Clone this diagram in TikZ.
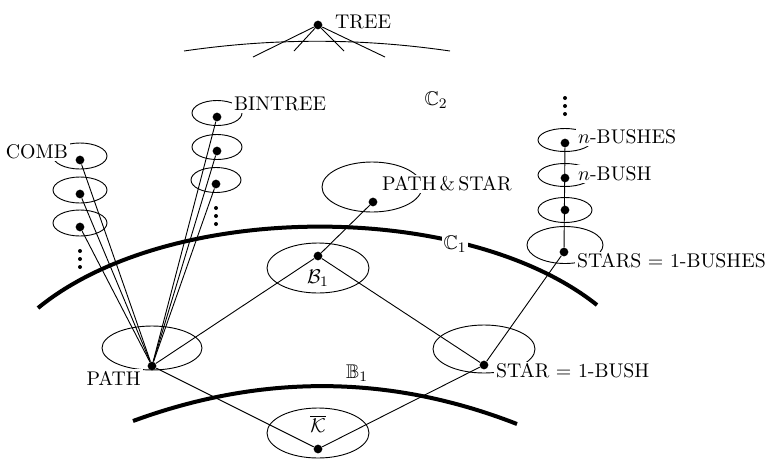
\documentclass[tikz,border=0pt]{standalone}
\usepackage{amsmath, amssymb}
\usetikzlibrary{positioning}

\begin{document}
\begin{tikzpicture}[x=0.55pt,y=-0.55pt,
    font=\fontsize{10.9}{13}\selectfont,
    dot/.style={circle,fill,inner sep=0pt,minimum size=4.8pt},
    lbl/.style={fill=white,inner sep=1pt},
    edge/.style={line width=0.5pt},
    cls/.style={line width=0.5pt},
    bound/.style={line width=2.2pt}]
    \useasboundingbox (0,0) rectangle (766,459);

    % classes
    \draw[cls] (80,156) ellipse (27 and 13);
    \draw[cls] (80,190) ellipse (27 and 13);
    \draw[cls] (80,223) ellipse (27 and 13);
    \draw[cls] (217,113) ellipse (25 and 12.5);
    \draw[cls] (217,147) ellipse (25 and 12.5);
    \draw[cls] (216,180) ellipse (25 and 12.5);
    \draw[cls] (152,348) ellipse (50 and 22);
    \draw[cls] (318,268) ellipse (51 and 25);
    \draw[cls] (372,187) ellipse (50 and 25);
    \draw[cls] (318,433) ellipse (51 and 25);
    \draw[cls] (484,349) ellipse (51 and 24);
    \draw[cls] (565,245) ellipse (38 and 18.5);
    \draw[cls] (565,210) ellipse (27 and 12.5);
    \draw[cls] (565,175) ellipse (27 and 11.5);
    \draw[cls] (565,140) ellipse (27 and 11.5);

    % boundaries
    \draw[cls] (184,51) .. controls (273,38) and (361,38) .. (450,51);
    \draw[bound] (38,308) .. controls (170,200) and (465,200) .. (597,305);
    \draw[bound] (133,421) .. controls (261,374) and (389,374) .. (517,424);

    % labels
    \node[lbl,anchor=west] (treelbl) at (333,22) {TREE};
    \node (ctwo) at (436,100) {$\mathbb{C}_2$};
    \node[lbl,anchor=west] (binlbl) at (232,104) {BINTREE};
    \node[lbl,anchor=east] (comblbl) at (70,152) {COMB};
    \node[lbl,anchor=east] (pathlbl) at (143,378) {PATH};
    \node[lbl,anchor=west] (pslbl) at (380,184) {PATH\,\&\,STAR};
    \node[lbl] (cone) at (455,244) {$\mathbb{C}_1$};
    \node (bone) at (357,373) {$\mathbb{B}_1$};
    \node (calb) at (318,278) {$\mathcal{B}_1$};
    \node (kbar) at (318,424) {$\overline{\mathcal{K}}$};
    \node[lbl,anchor=west] (starlbl) at (494,371) {STAR $=$ 1-BUSH};
    \node[lbl,anchor=west] (starslbl) at (575,261) {STARS $=$ 1-BUSHES};
    \node[lbl,anchor=west] (nbushlbl) at (576,174) {$n$-BUSH};
    \node[lbl,anchor=west] (nbusheslbl) at (576,137) {$n$-BUSHES};

    % vertices
    \node[dot] (TREE) at (318,25) {};
    \node[dot] (C1) at (80,160) {};
    \node[dot] (C2) at (80,194) {};
    \node[dot] (C3) at (80,227) {};
    \node[dot] (T1) at (217,117) {};
    \node[dot] (T2) at (217,151) {};
    \node[dot] (T3) at (216,184) {};
    \node[dot] (PATH) at (152,366) {};
    \node[dot] (B) at (318,256) {};
    \node[dot] (PS) at (373,202) {};
    \node[dot] (K) at (318,449) {};
    \node[dot] (STAR) at (484,365) {};
    \node[dot] (S1) at (564,252) {};
    \node[dot] (S2) at (565,210) {};
    \node[dot] (S3) at (565,178) {};
    \node[dot] (S4) at (565,143) {};

    % more of the same
    \foreach \d in {0,8,16} {
        \fill (80,251+\d) circle (2);
        \fill (216,208+\d) circle (2);
        \fill (565,98+\d) circle (2);
    }

    % tree legs
    \coordinate (l1) at (253,57);
    \coordinate (l2) at (294,51);
    \coordinate (l3) at (344,51);
    \coordinate (l4) at (385,57);
    \foreach \e in {l1,l2,l3,l4}
        \draw[edge] (TREE) -- (\e);

    % edges
    \foreach \e in {C1,C2,C3,T1,T2,T3}
        \draw[edge] (PATH) -- (\e);
    \draw[edge] (PATH) -- (B);
    \draw[edge] (B) -- (STAR);
    \draw[edge] (PATH) -- (K);
    \draw[edge] (K) -- (STAR);
    \draw[edge] (B) -- (PS);
    \draw[edge] (STAR) -- (S1);
    \draw[edge] (S1) -- (S4);
\end{tikzpicture}
\end{document}
